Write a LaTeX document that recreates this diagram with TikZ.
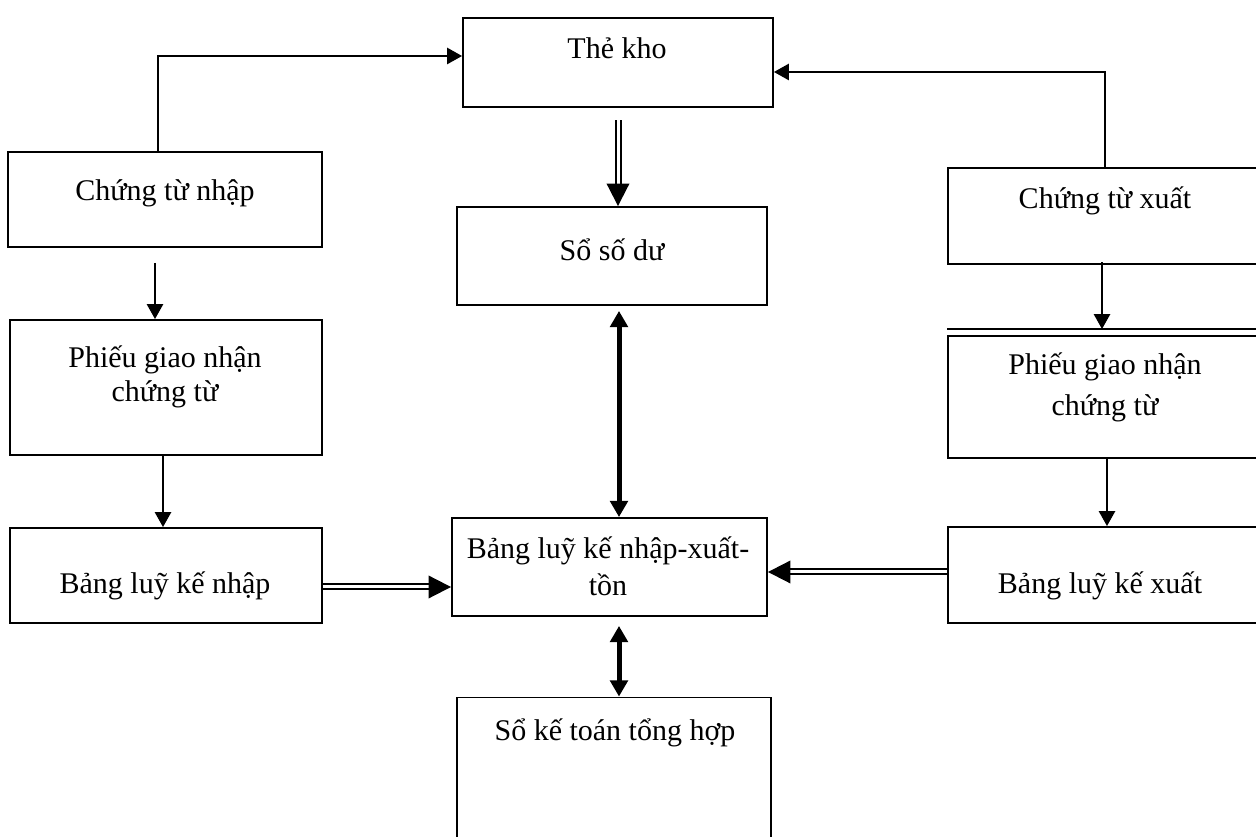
\documentclass[tikz,border=0pt]{standalone}
\usepackage{fontspec}
\setmainfont{Liberation Serif}
\usepackage{tikz}
\usetikzlibrary{arrows.meta}

\begin{document}
\begin{tikzpicture}[x=0.4pt,y=-0.4pt,
    box/.style={draw,line width=0.75pt,inner sep=0pt},
    txt/.style={anchor=base,align=center,font=\fontsize{12pt}{14pt}\selectfont},
    arr/.style={line width=0.8pt,-{Triangle[length=6pt,width=6.5pt]}},
    dbl/.style={double,double distance=1.2pt,line width=0.8pt,-{Triangle[length=9pt,width=9pt]}},
    both/.style={line width=2pt,{Triangle[length=6.5pt,width=7pt]}-{Triangle[length=6.5pt,width=7pt]}}]
  \clip (0,0) rectangle (1256,837);
  \node[box,minimum width=124pt,minimum height=35.6pt] (kho) at (618,62.5) {};
  \node[box,minimum width=125.6pt,minimum height=38pt] (ctnhap) at (165,199.5) {};
  \node[box,minimum width=124.8pt,minimum height=54pt] (pgnhap) at (166,387.5) {};
  \node[box,minimum width=124.8pt,minimum height=38pt] (lknhap) at (166,575.5) {};
  \node[box,minimum width=124pt,minimum height=39.2pt] (sodu) at (612,256) {};
  \node[box,minimum width=126pt,minimum height=39.2pt] (nxt) at (609.5,567) {};
  \node[box,minimum width=125.6pt,minimum height=58pt] (sktth) at (614,770) {};
  \node[box,minimum width=128.8pt,minimum height=38.4pt] (ctxuat) at (1109,216) {};
  \node[box,minimum width=128.8pt,minimum height=48.8pt] (pgxuat) at (1109,397) {};
  \node[box,minimum width=128.8pt,minimum height=38.4pt] (lkxuat) at (1109,575) {};
  \draw[line width=0.75pt] (pgxuat.north west) ++(0,-6) -- ++(330,0);

  \node[txt] (t1) at (617,59) {Thẻ kho};
  \node[txt] (t2) at (165,201) {Chứng từ nhập};
  \node[txt] (t3) at (165,402) {Phiếu giao nhận\\[-0.4pt] chứng từ};
  \node[txt] (t4) at (165,594) {Bảng luỹ kế nhập};
  \node[txt] (t5) at (612,261) {Sổ số dư};
  \node[txt] (t6) at (608,596) {Bảng luỹ kế nhập-xuất-\\[1pt] tồn};
  \node[txt] (t7) at (615,741) {Sổ kế toán tổng hợp};
  \node[txt] (t8) at (1105,209) {Chứng từ xuất};
  \node[txt] (t9) at (1105,416) {Phiếu giao nhận\\[2.4pt] chứng từ};
  \node[txt] (t10) at (1100,594) {Bảng luỹ kế xuất};

  \draw[arr] ([xshift=-2.8pt]ctnhap.north) |- ([yshift=2.6pt]kho.west);
  \draw[arr] ([xshift=-1.6pt]ctxuat.north) |- ([yshift=-3.8pt]kho.east);
  \draw[dbl] ([yshift=-5pt]kho.south) -- (kho.south |- sodu.north);
  \draw[arr] ([xshift=-4pt,yshift=-6pt]ctnhap.south) -- ([xshift=-4pt]ctnhap.south |- pgnhap.north);
  \draw[arr] ([xshift=-1.2pt]pgnhap.south) -- ([xshift=-1.2pt]pgnhap.south |- lknhap.north);
  \draw[arr] ([xshift=-2.8pt,yshift=1pt]ctxuat.south) -- ([xshift=-2.8pt,yshift=2.4pt]ctxuat.south |- pgxuat.north);
  \draw[arr] ([xshift=-0.8pt]pgxuat.south) -- ([xshift=-0.8pt]pgxuat.south |- lkxuat.north);
  \draw[dbl] ([yshift=-4.6pt]lknhap.east) -- ([yshift=-4.6pt]lknhap.east -| nxt.west);
  \draw[dbl] ([yshift=-2pt]nxt.east -| lkxuat.west) -- ([yshift=-2pt]nxt.east);
  \draw[both] ([xshift=2.8pt,yshift=-2pt]sodu.south) -- ([xshift=2.8pt]sodu.south |- nxt.north);
  \draw[both] ([xshift=3.8pt,yshift=-3.6pt]nxt.south) -- ([xshift=3.8pt]nxt.south |- sktth.north);
\end{tikzpicture}
\end{document}
